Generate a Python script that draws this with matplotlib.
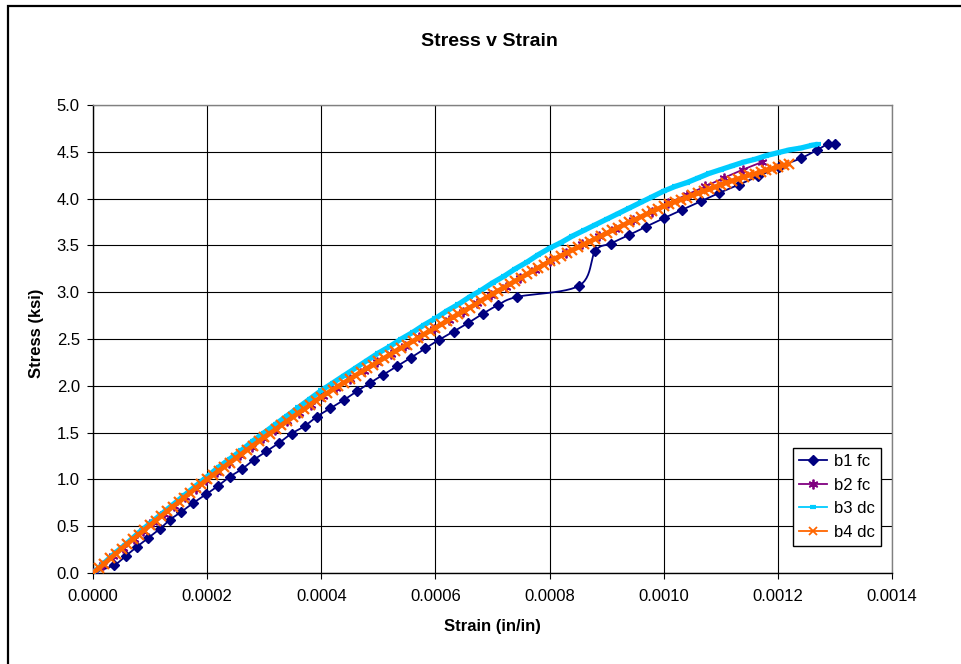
import numpy as np
import matplotlib
matplotlib.use("Agg")
import matplotlib.pyplot as plt
from matplotlib.lines import Line2D
from matplotlib.patches import Rectangle

plt.rcParams['font.family'] = ['Liberation Sans', 'DejaVu Sans']

# strain in microstrain (in/in x 1e-6), stress in ksi
b1_strain = [0, 37, 57, 77, 96, 117, 135, 154, 176, 198, 219, 240, 261, 282, 304,
             326, 348, 371, 392, 416, 440, 462, 485, 509, 533, 557, 582, 606, 632,
             657, 683, 709, 743, 852, 880, 907, 939, 969, 1000, 1032, 1065, 1097,
             1132, 1166, 1202, 1240, 1269, 1287, 1301]
b1_stress = [0.00, 0.085, 0.18, 0.28, 0.37, 0.47, 0.57, 0.65, 0.75, 0.84, 0.93, 1.03,
             1.11, 1.21, 1.30, 1.39, 1.49, 1.57, 1.67, 1.76, 1.85, 1.94, 2.03, 2.12,
             2.21, 2.30, 2.40, 2.49, 2.58, 2.67, 2.77, 2.86, 2.95, 3.07, 3.44, 3.52,
             3.61, 3.70, 3.79, 3.88, 3.97, 4.06, 4.15, 4.24, 4.34, 4.43, 4.52, 4.58,
             4.58]

b2_strain = [0, 18, 35, 53, 71, 88, 106, 124, 142, 161, 180, 198, 218, 238, 258, 278,
             298, 319, 340, 361, 382, 403, 426, 450, 474, 498, 522, 547, 572, 598,
             623, 648, 673, 698, 723, 749, 775, 800, 828, 857, 886, 915, 947, 979,
             1008, 1040, 1072, 1105, 1139, 1172]
b2_stress = [0.00, 0.09, 0.18, 0.27, 0.36, 0.45, 0.54, 0.63, 0.72, 0.81, 0.90, 0.99,
             1.08, 1.17, 1.26, 1.35, 1.44, 1.53, 1.62, 1.71, 1.80, 1.89, 1.98, 2.07,
             2.16, 2.25, 2.34, 2.43, 2.52, 2.61, 2.70, 2.79, 2.88, 2.97, 3.06, 3.15,
             3.24, 3.33, 3.42, 3.51, 3.60, 3.68, 3.77, 3.86, 3.95, 4.04, 4.13, 4.22,
             4.31, 4.39]

b3_strain = [0, 20, 40, 60, 80, 100, 120, 140, 160, 180, 200, 220, 240, 260, 280, 300,
             320, 340, 360, 380, 400, 420, 440, 460, 480, 500, 520, 540, 560, 580,
             600, 620, 640, 660, 680, 700, 720, 740, 760, 780, 800, 820, 840, 860,
             880, 900, 920, 940, 960, 980, 1000, 1020, 1040, 1060, 1080, 1100, 1120,
             1140, 1160, 1180, 1200, 1220, 1240, 1260, 1270]
b3_stress = [0.00, 0.11, 0.22, 0.32, 0.43, 0.53, 0.63, 0.73, 0.83, 0.93, 1.03, 1.13,
             1.22, 1.31, 1.41, 1.50, 1.59, 1.68, 1.77, 1.86, 1.95, 2.03, 2.11, 2.19,
             2.27, 2.35, 2.42, 2.50, 2.57, 2.65, 2.72, 2.80, 2.87, 2.95, 3.02, 3.10,
             3.17, 3.25, 3.32, 3.40, 3.47, 3.53, 3.60, 3.66, 3.72, 3.78, 3.84, 3.90,
             3.96, 4.02, 4.08, 4.13, 4.17, 4.22, 4.27, 4.31, 4.35, 4.39, 4.42, 4.46,
             4.49, 4.52, 4.54, 4.57, 4.58]

b4_strain = [0, 10, 20, 30, 40, 50, 60, 70, 80, 90, 100, 110, 120, 130, 140, 150, 160,
             170, 180, 190, 200, 210, 220, 230, 240, 250, 260, 270, 280, 290, 300,
             310, 320, 330, 340, 350, 360, 370, 380, 390, 400, 410, 420, 430, 440,
             450, 460, 470, 480, 490, 500, 510, 520, 530, 540, 550, 560, 570, 580,
             590, 600, 610, 620, 630, 640, 650, 660, 670, 680, 690, 700, 710, 720,
             730, 740, 750, 760, 770, 780, 790, 800, 810, 820, 830, 840, 850, 860,
             870, 880, 890, 900, 910, 920, 930, 940, 950, 960, 970, 980, 990, 1000,
             1010, 1020, 1030, 1040, 1050, 1060, 1070, 1080, 1090, 1100, 1110, 1120,
             1130, 1140, 1150, 1160, 1170, 1180, 1190, 1200, 1210, 1220]
b4_stress = [0.00, 0.05, 0.10, 0.155, 0.205, 0.26, 0.31, 0.36, 0.41, 0.46,
             0.51, 0.56, 0.61, 0.66, 0.71, 0.755, 0.805, 0.855, 0.905, 0.95,
             1.00, 1.045, 1.09, 1.135, 1.18, 1.225, 1.27, 1.315, 1.36, 1.405,
             1.45, 1.49, 1.535, 1.58, 1.62, 1.665, 1.71, 1.75, 1.795, 1.84,
             1.88, 1.92, 1.96, 1.995, 2.035, 2.07, 2.11, 2.15, 2.185, 2.22,
             2.26, 2.295, 2.33, 2.37, 2.405, 2.44, 2.475, 2.51, 2.55, 2.585,
             2.62, 2.655, 2.69, 2.73, 2.765, 2.80, 2.835, 2.87, 2.91, 2.945,
             2.98, 3.015, 3.05, 3.085, 3.12, 3.155, 3.19, 3.225, 3.26, 3.295,
             3.33, 3.36, 3.39, 3.42, 3.45, 3.48, 3.51, 3.54, 3.57, 3.60,
             3.63, 3.66, 3.69, 3.72, 3.75, 3.775, 3.805, 3.835, 3.865, 3.89,
             3.92, 3.945, 3.965, 3.99, 4.01, 4.035, 4.055, 4.08, 4.10, 4.125,
             4.15, 4.17, 4.19, 4.21, 4.23, 4.25, 4.265, 4.285, 4.305, 4.32,
             4.34, 4.355, 4.37]

XMAX, YMAX = 0.0014, 5.0
W, H = 962, 664
AX_L, AX_B, AX_R, AX_T = 93, 573, 892, 105   # plot area in pixels


def smooth(x, y, n=12):
    """Catmull-Rom curve through the points, worked out in screen units."""
    sx = (AX_R - AX_L) / XMAX
    sy = (AX_B - AX_T) / YMAX
    P = np.column_stack([np.asarray(x) * sx, np.asarray(y) * sy])
    P = np.vstack([P[0], P, P[-1]])
    t = np.linspace(0, 1, n, endpoint=False)[:, None]
    out = []
    for i in range(1, len(P) - 2):
        p0, p1, p2, p3 = P[i - 1], P[i], P[i + 1], P[i + 2]
        seg = 0.5 * (2 * p1 + (-p0 + p2) * t
                     + (2 * p0 - 5 * p1 + 4 * p2 - p3) * t ** 2
                     + (-p0 + 3 * p1 - 3 * p2 + p3) * t ** 3)
        out.append(seg)
    out.append(P[-2][None])
    out = np.vstack(out)
    return out[:, 0] / sx, out[:, 1] / sy


fig = plt.figure(figsize=(W / 100, H / 100), dpi=100)
ax = fig.add_axes([AX_L / W, 1 - AX_B / H, (AX_R - AX_L) / W, (AX_B - AX_T) / H])

c1, c2, c3, c4 = '#000080', '#800080', '#00CCFF', '#FF6600'

x1 = np.array(b1_strain) * 1e-6
x2 = np.array(b2_strain) * 1e-6
x3 = np.array(b3_strain) * 1e-6
x4 = np.array(b4_strain) * 1e-6

# b1 fc
sx, sy = smooth(x1, b1_stress)
ax.plot(sx, sy, color=c1, lw=1.3, zorder=3)
ax.plot(x1, b1_stress, ls='none', marker='D', ms=5.5, color=c1, zorder=3)

# b2 fc
sx, sy = smooth(x2, b2_stress)
ax.plot(sx, sy, color=c2, lw=1.3, zorder=4)
ax.plot(x2, b2_stress, ls='none', marker=(6, 2, 0), ms=7, mew=1.3, color=c2, zorder=4)

# b3 dc
ax.plot(x3, b3_stress, color=c3, lw=3.8, zorder=5, solid_capstyle='butt')
ax.plot(x3, b3_stress, ls='none', marker='_', ms=5, mew=3, color=c3, zorder=5)

# b4 dc - dense readings, the crosses merge into a band
ax.plot(x4, b4_stress, color=c4, lw=3.5, zorder=6, solid_capstyle='butt')
ax.plot(x4, b4_stress, ls='none', marker='x', ms=7, mew=1.6, color=c4, zorder=6)

ax.set_xlim(0, XMAX)
ax.set_ylim(0, YMAX)
ax.set_xticks(np.arange(0, 0.00141, 0.0002))
ax.set_yticks(np.arange(0, 5.01, 0.5))
ax.xaxis.set_major_formatter(plt.FuncFormatter(lambda v, p: f'{v:.4f}'))
ax.yaxis.set_major_formatter(plt.FuncFormatter(lambda v, p: f'{v:.1f}'))
ax.tick_params(axis='both', direction='out', length=4.5, width=0.8, labelsize=12,
               colors='black')
ax.tick_params(axis='x', pad=7)
ax.tick_params(axis='y', pad=5)
ax.grid(True, color='black', lw=0.8)
ax.set_axisbelow(True)
for side in ('top', 'right'):
    ax.spines[side].set_color('#808080')
for side in ('left', 'bottom'):
    ax.spines[side].set_color('black')
for s in ax.spines.values():
    s.set_linewidth(1.0)

fig.text(489 / W, 1 - 41 / H, 'Stress v Strain', fontsize=14, fontweight='bold',
         ha='center', va='center')
fig.text(492 / W, 1 - 627 / H, 'Strain (in/in)', fontsize=12, fontweight='bold',
         ha='center', va='center')
fig.text(37 / W, 1 - 333 / H, 'Stress (ksi)', fontsize=12, fontweight='bold',
         ha='center', va='center', rotation=90)

handles = [
    Line2D([], [], color=c1, lw=1.3, marker='D', ms=5.5),
    Line2D([], [], color=c2, lw=1.3, marker=(6, 2, 0), ms=7, mew=1.3),
    Line2D([], [], color=c3, lw=1.3, marker='_', ms=5, mew=3),
    Line2D([], [], color=c4, lw=1.3, marker='x', ms=6, mew=1.3),
]
leg = ax.legend(handles, ['b1 fc', 'b2 fc', 'b3 dc', 'b4 dc'], loc='upper left',
                bbox_to_anchor=(793 / W, 1 - 448 / H), bbox_transform=fig.transFigure,
                borderaxespad=0, fontsize=12, fancybox=False, frameon=True,
                framealpha=1, edgecolor='black', handlelength=1.7,
                handletextpad=0.4, labelspacing=0.52, borderpad=0.35)
leg.get_frame().set_linewidth(1.0)

# chart border
fig.add_artist(Rectangle((8.3 / W, -0.1), 1.2, 1.1 - 5.7 / H, transform=fig.transFigure,
                         fill=False, edgecolor='black', lw=1.6, clip_on=False))

fig.savefig('out.png', dpi=100)
